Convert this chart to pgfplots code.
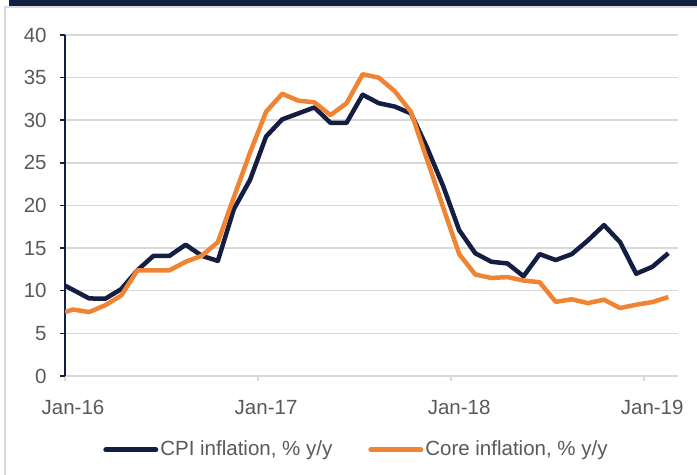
\documentclass[border=0pt]{standalone}
\usepackage{fontspec}
\setmainfont{Liberation Sans}
\usepackage{pgfplots}
\pgfplotsset{compat=1.18}
\definecolor{cpinavy}{RGB}{20,29,66}
\definecolor{coreorange}{RGB}{240,132,50}
\definecolor{gridgray}{RGB}{217,217,217}
\definecolor{labelgray}{RGB}{89,89,89}
\begin{document}
\begin{tikzpicture}
% 1 px of the reference = 0.5pt; plot box south west at (0,0)
\useasboundingbox (-32.5pt,-49.5pt) rectangle (316pt,188pt);
\fill[cpinavy] (-28pt,185pt) rectangle (320pt,190pt);
\draw[gridgray, line width=0.75pt] (-30pt,-60pt) -- (-30pt,184.6pt) -- (320pt,184.6pt);
\begin{axis}[
  at={(0pt,0pt)}, anchor=south west,
  scale only axis,
  width=306.5pt, height=170.5pt,
  xmin=0, xmax=38.1, ymin=0, ymax=40,
  axis lines=left,
  axis line style={-},
  x axis line style={gridgray, line width=0.75pt},
  y axis line style={cpinavy, line width=0.75pt},
  xtick={0,12,24,36},
  xticklabels={Jan-16,Jan-17,Jan-18,Jan-19},
  ytick={0,5,...,40},
  ymajorgrids,
  grid style={gridgray, line width=0.75pt},
  tick align=outside,
  major tick length=2.5pt,
  x tick style={gridgray, line width=0.75pt},
  y tick style={cpinavy, line width=0.75pt},
  ticklabel style={font=\fontsize{10.25}{12}\selectfont, text=labelgray},
  /pgf/number format/assume math mode=true,
  yticklabel style={anchor=east, inner sep=0pt, xshift=-6.5pt},
  xticklabel style={anchor=base, inner sep=0pt, yshift=-17pt, xshift=4pt},
  legend columns=2,
  legend style={at={(0.4755,0)}, anchor=center, yshift=-37pt,
    draw=none, fill=none, inner sep=0pt,
    font=\fontsize{10.25}{12}\selectfont, text=labelgray,
    nodes={inner sep=1pt},
    /tikz/every even column/.append style={column sep=17pt}},
  legend image code/.code={\draw[#1, line width=2.5pt, line cap=round] (1.25pt,0pt) -- (26.25pt,0pt);},
]
\addplot[cpinavy, line width=2.25pt, line join=round] coordinates {
(0,10.6)(0.5,10.1)(1.5,9.1)(2.5,9.06)(3.5,10.2)(4.5,12.4)(5.5,14.1)(6.5,14.1)
(7.5,15.4)(8.5,14.1)(9.5,13.5)(10.5,19.6)(11.5,23.0)(12.5,28.1)(13.5,30.1)
(14.5,30.8)(15.5,31.5)(16.5,29.7)(17.5,29.7)(18.5,33.0)(19.5,32.0)(20.5,31.6)
(21.5,30.8)(22.5,26.8)(23.5,22.3)(24.5,17.1)(25.5,14.4)(26.5,13.4)(27.5,13.2)
(28.5,11.7)(29.5,14.3)(30.5,13.6)(31.5,14.3)(32.5,15.9)(33.5,17.7)(34.5,15.7)
(35.5,12.0)(36.5,12.8)(37.5,14.4)};
\addlegendentry{CPI inflation, \% y/y}
\addplot[coreorange, line width=2.25pt, line join=round] coordinates {
(0,7.5)(0.5,7.8)(1.5,7.5)(2.5,8.3)(3.5,9.45)(4.5,12.4)(5.5,12.4)(6.5,12.4)
(7.5,13.4)(8.5,14.1)(9.5,15.7)(10.5,21.0)(11.5,26.2)(12.5,31.0)(13.5,33.1)
(14.5,32.3)(15.5,32.1)(16.5,30.6)(17.5,32.0)(18.5,35.4)(19.5,35.0)(20.5,33.4)
(21.5,31.0)(22.5,25.4)(23.5,19.8)(24.5,14.3)(25.5,11.9)(26.5,11.5)(27.5,11.6)
(28.5,11.2)(29.5,11.0)(30.5,8.7)(31.5,9.0)(32.5,8.55)(33.5,8.95)(34.5,7.97)
(35.5,8.36)(36.5,8.67)(37.5,9.26)};
\addlegendentry{Core inflation, \% y/y}
\end{axis}
\end{tikzpicture}
\end{document}
